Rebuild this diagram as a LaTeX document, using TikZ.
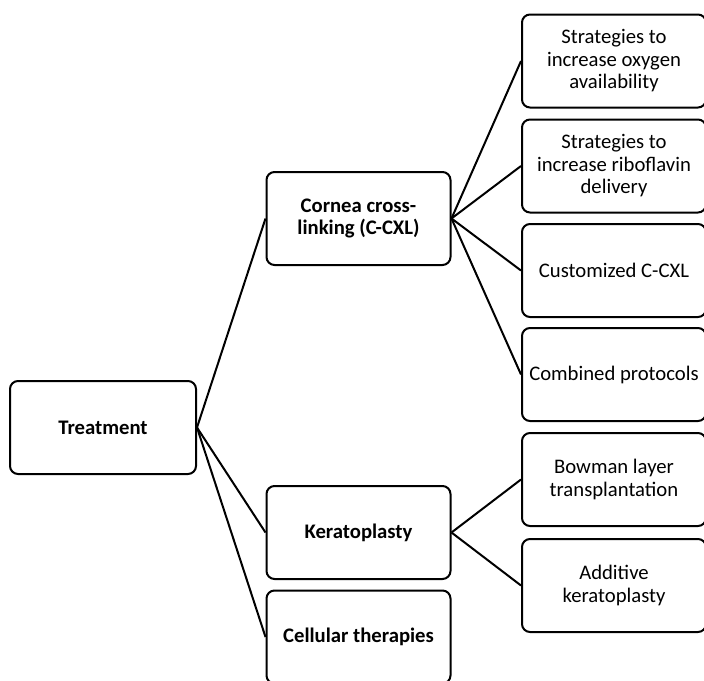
\documentclass[tikz,border=0pt]{standalone}
\usepackage{fontspec}
\setmainfont{Carlito}
\usepackage{tikz}
\usetikzlibrary{positioning}

\begin{document}
\begin{tikzpicture}[x=1pt,y=-1pt,
  box/.style={draw, rounded corners=8pt, line width=2pt, minimum width=184pt, minimum height=93pt, inner sep=1pt, align=center, font=\fontsize{20.7}{22.5}\selectfont},
  link/.style={line width=2pt}]
\useasboundingbox (0,0) rectangle (704,680);
\node[box, minimum width=186pt] (0) at (103,427.5){\textbf{Treatment}};
\node[box] (1) at (358.5,218.5){\textbf{Cornea cross-}\\\textbf{linking (C-CXL)}};
\node[box] (2) at (358.5,532.5){\textbf{Keratoplasty}};
\node[box] (3) at (358.5,637){\textbf{Cellular therapies}};
\node[box] (11) at (614,61){Strategies to\\increase oxygen\\availability};
\node[box] (12) at (614,166){Strategies to\\increase riboflavin\\delivery};
\node[box] (13) at (614,270.5){Customized C-CXL};
\node[box] (14) at (614,374.5){Combined protocols};
\node[box] (21) at (614,479.5){Bowman layer\\transplantation};
\node[box] (22) at (614,585.5){Additive\\keratoplasty};
\draw[link] (0.east) -- (1.west);
\draw[link] (0.east) -- (2.west);
\draw[link] (0.east) -- (3.west);
\draw[link] (1.east) -- (11.west);
\draw[link] (1.east) -- (12.west);
\draw[link] (1.east) -- (13.west);
\draw[link] (1.east) -- (14.west);
\draw[link] (2.east) -- (21.west);
\draw[link] (2.east) -- (22.west);
\end{tikzpicture}
\end{document}
